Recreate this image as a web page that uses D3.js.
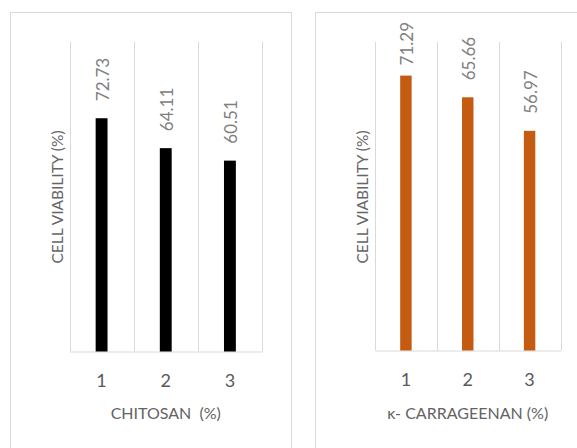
<!DOCTYPE html>
<html>
<head>
<meta charset="utf-8">
<script src="https://cdn.jsdelivr.net/npm/d3@7"></script>
<style>
  html, body { margin: 0; padding: 0; background: #fff; }
  svg { display: block; }
</style>
</head>
<body>
<svg id="chart" width="577" height="448"></svg>
<script>
// ---- data ----
const categories = ["1", "2", "3"];
const chitosanValues = [72.73, 64.11, 60.51];
const carrageenanValues = [71.29, 65.66, 56.97];
const yTitle = "CELL VIABILITY (%)";
const chitosanTitle = "CHITOSAN  (%)";
const carrageenanTitle = "κ- CARRAGEENAN (%)";

const FONT = "Lato, 'Open Sans', sans-serif";
const svg = d3.select("#chart");

const panels = [
  { values: chitosanValues, title: chitosanTitle, color: "#000000",
    frame: [10.5, 12.5, 291.5, 470], plotX: [69.5, 262], base: 351.5, top: 42,
    domain: [5.5, 94.7], yTitleX: 57 },
  { values: carrageenanValues, title: carrageenanTitle, color: "#c55a11",
    frame: [315.5, 12.5, 600, 470], plotX: [375, 560.5], base: 350.5, top: 42,
    domain: [0, 80], yTitleX: 361.7 }
];

panels.forEach(p => {
  const g = svg.append("g");
  g.append("rect")
    .attr("x", p.frame[0]).attr("y", p.frame[1])
    .attr("width", p.frame[2] - p.frame[0]).attr("height", p.frame[3] - p.frame[1])
    .attr("fill", "none").attr("stroke", "#d9d9d9").attr("stroke-width", 1);

  const x = d3.scaleBand().domain(categories).range(p.plotX).paddingInner(0).paddingOuter(0);
  const y = d3.scaleLinear().domain(p.domain).range([p.base, p.top]);

  const bounds = categories.map(c => x(c)).concat([x(categories[categories.length - 1]) + x.bandwidth()]);
  g.selectAll("line.grid").data(bounds).enter().append("line")
    .attr("x1", d => Math.round(d) + 0.5).attr("x2", d => Math.round(d) + 0.5)
    .attr("y1", p.top).attr("y2", p.base)
    .attr("stroke", "#d9d9d9").attr("stroke-width", 1);

  const axis = d3.axisBottom(x).tickSize(0).tickPadding(0);
  const ag = g.append("g").attr("transform", `translate(0,${p.base})`).call(axis);
  ag.select(".domain").attr("stroke", "#d9d9d9").attr("stroke-width", 1.2);
  ag.selectAll(".tick text")
    .attr("y", 35).attr("dy", 0)
    .attr("font-family", FONT).attr("font-size", 18).attr("fill", "#595959");

  const bw = x.bandwidth() * 0.185;
  g.selectAll("rect.bar").data(p.values).enter().append("rect")
    .attr("x", (d, i) => x(categories[i]) + x.bandwidth() / 2 - bw / 2)
    .attr("y", d => y(d))
    .attr("width", bw)
    .attr("height", d => p.base - y(d))
    .attr("fill", p.color);

  const labels = g.selectAll("text.lbl").data(p.values).enter().append("text")
    .attr("font-family", FONT).attr("font-size", 17).attr("fill", "#808080")
    .attr("text-anchor", "start").attr("dominant-baseline", "central")
    .text(d => d.toFixed(2));
  labels.each(function(d, i) {
    const len = this.getComputedTextLength();
    const cx = x(categories[i]) + x.bandwidth() / 2 + 1;
    let bottom = y(d) - 17;
    if (bottom - len < 22) bottom = 22 + len;
    d3.select(this).attr("transform", `translate(${cx},${bottom}) rotate(-90)`);
  });

  g.append("text")
    .attr("transform", `translate(${p.yTitleX},197) rotate(-90)`)
    .attr("text-anchor", "middle").attr("dominant-baseline", "central")
    .attr("font-family", FONT).attr("font-size", 15.5).attr("fill", "#666666")
    .text(yTitle);

  g.append("text")
    .attr("x", (p.plotX[0] + p.plotX[1]) / 2).attr("y", 418.5)
    .attr("text-anchor", "middle")
    .attr("font-family", FONT).attr("font-size", 16).attr("fill", "#636363")
    .attr("xml:space", "preserve")
    .style("white-space", "pre")
    .text(p.title);
});
</script>
</body>
</html>
